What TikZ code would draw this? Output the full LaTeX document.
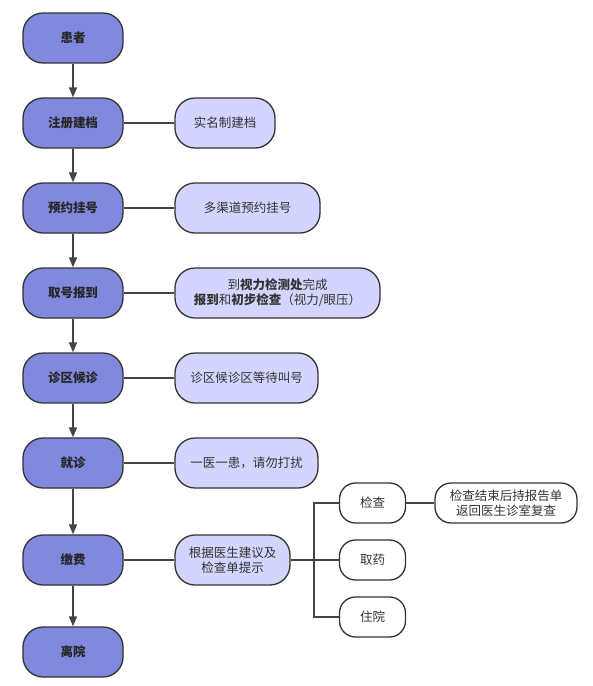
\documentclass[tikz,border=0pt]{standalone}
\usepackage{fontspec}
\setmainfont{Noto Sans CJK SC}
\usetikzlibrary{arrows.meta}
\definecolor{mainfill}{HTML}{8189DE}
\definecolor{subfill}{HTML}{D3D5FE}
\definecolor{edge}{HTML}{333333}
\definecolor{linec}{HTML}{444444}
\tikzset{
  mainbox/.style={draw=edge, line width=1.3pt, fill=mainfill, rounded corners=20pt,
    minimum width=100pt, minimum height=50pt, inner sep=0pt, font=\fontsize{12.5}{15}\selectfont\bfseries, text=black!85},
  subbox/.style={draw=edge, line width=1.3pt, fill=subfill, rounded corners=20pt,
    minimum height=50pt, inner sep=0pt, align=center, font=\fontsize{12.5}{15}\selectfont, text=black!80},
  whitebox/.style={draw=edge, line width=1.3pt, fill=white, rounded corners=16pt,
    minimum height=40pt, inner sep=0pt, align=center, font=\fontsize{12.5}{15}\selectfont, text=black!80},
  flow/.style={draw=linec, line width=1.4pt, -{Triangle[length=10pt,width=8pt]}},
  link/.style={draw=linec, line width=1.4pt},
}
\begin{document}
\begin{tikzpicture}[x=1pt,y=-1pt]
\useasboundingbox[fill=white] (0,0) rectangle (593,686);
% main column
\node[mainbox] (p) at (73,38) {患者};
\node[mainbox] (zc) at (73,123) {注册建档};
\node[mainbox] (yy) at (73,208) {预约挂号};
\node[mainbox] (qh) at (73,293) {取号报到};
\node[mainbox] (zq) at (73,378) {诊区候诊};
\node[mainbox] (jz) at (73,463) {就诊};
\node[mainbox] (jf) at (73,560) {缴费};
\node[mainbox] (ly) at (73,652) {离院};
% side notes
\node[subbox, minimum width=100pt] (s1) at (225,123) {实名制建档};
\node[subbox, minimum width=145pt] (s2) at (247.5,208) {多渠道预约挂号};
\node[subbox, minimum width=205pt] (s3) at (277.5,293) {到\textbf{视力检测处}完成\\\textbf{报到}和\textbf{初步检查}（视力/眼压）};
\node[subbox, minimum width=143pt] (s4) at (246.5,378) {诊区候诊区等待叫号};
\node[subbox, minimum width=143pt] (s5) at (246.5,463) {一医一患，请勿打扰};
\node[subbox, minimum width=115pt] (s6) at (232.5,560) {根据医生建议及\\检查单提示};
% branches
\node[whitebox, minimum width=66pt] (jc) at (372.5,503) {检查};
\node[whitebox, minimum width=66pt] (qy) at (372.5,560) {取药};
\node[whitebox, minimum width=66pt] (zy) at (372.5,617) {住院};
\node[whitebox, minimum width=142pt] (fc) at (506,503) {检查结束后持报告单\\返回医生诊室复查};
% flow arrows
\draw[flow] (p) -- (zc);
\draw[flow] (zc) -- (yy);
\draw[flow] (yy) -- (qh);
\draw[flow] (qh) -- (zq);
\draw[flow] (zq) -- (jz);
\draw[flow] (jz) -- (jf);
\draw[flow] (jf) -- (ly);
% links
\draw[link] (zc) -- (s1);
\draw[link] (yy) -- (s2);
\draw[link] (qh) -- (s3);
\draw[link] (zq) -- (s4);
\draw[link] (jz) -- (s5);
\draw[link] (jf) -- (s6);
\coordinate (bus) at (314,560);
\draw[link] (s6) -- (qy);
\draw[link] (s6.east) -- (bus) |- (jc.west);
\draw[link] (bus) |- (zy.west);
\draw[link] (jc) -- (fc);
\end{tikzpicture}
\end{document}
